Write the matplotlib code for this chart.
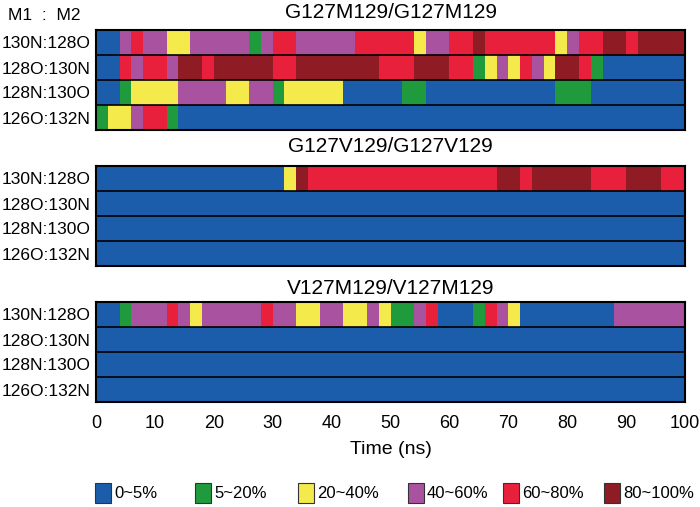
import matplotlib
matplotlib.use("Agg")
import matplotlib.pyplot as plt
from matplotlib.patches import Rectangle

plt.rcParams['font.family'] = ['Liberation Sans', 'DejaVu Sans']

# occupancy classes and their colours
levels = ["0~5%", "5~20%", "20~40%", "40~60%", "60~80%", "80~100%"]
colors = ["#1b5dab", "#1f9a3c", "#f4ea4c", "#a9529f", "#e8203b", "#8f1c24"]

row_labels = ["130N:128O", "128O:130N", "128N:130O", "126O:132N"]
titles = ["G127M129/G127M129", "G127V129/G127V129", "V127M129/V127M129"]

# segment edges (ns) and level index per row, top row first
gm_edges = [
    [0, 4, 6, 8, 12, 16, 26, 28, 30, 34, 44, 54, 56, 60, 64, 66, 78, 80, 82, 86, 90, 92, 100],
    [0, 4, 6, 8, 12, 14, 18, 20, 30, 34, 48, 54, 60, 64, 66, 68, 70, 72, 74, 76, 78, 82, 84, 86, 100],
    [0, 4, 6, 14, 22, 26, 30, 32, 42, 52, 56, 78, 84, 100],
    [0, 2, 6, 8, 12, 14, 100],
]
gm_levels = [
    [0, 3, 4, 3, 2, 3, 1, 3, 4, 3, 4, 2, 3, 4, 5, 4, 2, 3, 4, 5, 4, 5],
    [0, 4, 3, 4, 3, 5, 4, 5, 4, 5, 4, 5, 4, 1, 2, 3, 2, 4, 3, 2, 5, 4, 1, 0],
    [0, 1, 2, 3, 2, 3, 1, 2, 0, 1, 0, 1, 0],
    [1, 2, 3, 4, 1, 0],
]

gv_edges = [
    [0, 32, 34, 36, 68, 72, 74, 84, 90, 96, 100],
    [0, 100],
    [0, 100],
    [0, 100],
]
gv_levels = [
    [0, 2, 5, 4, 5, 4, 5, 4, 5, 4],
    [0],
    [0],
    [0],
]

vm_edges = [
    [0, 4, 6, 12, 14, 16, 18, 28, 30, 34, 38, 42, 46, 48, 50, 54, 56, 58, 64, 66, 68, 70, 72, 88, 100],
    [0, 100],
    [0, 100],
    [0, 100],
]
vm_levels = [
    [0, 1, 3, 4, 3, 2, 3, 4, 3, 2, 3, 2, 3, 2, 1, 3, 4, 0, 1, 4, 3, 2, 0, 3],
    [0],
    [0],
    [0],
]

panels = [(gm_edges, gm_levels), (gv_edges, gv_levels), (vm_edges, vm_levels)]

fig = plt.figure(figsize=(7, 5.07), dpi=100)

# panel boxes in pixels: (top, bottom), title pad in points
W, H = 700, 507
left_px, right_px = 96, 685
boxes = [(30, 130), (166, 266), (302, 402)]
title_pads = [8.5, 10, 6]

axes = []
for (top, bot), (edges, lv), title, tp in zip(boxes, panels, titles, title_pads):
    ax = fig.add_axes([left_px / W, 1 - bot / H, (right_px - left_px) / W, (bot - top) / H])
    for i, (e, l) in enumerate(zip(edges, lv)):
        y = 3 - i
        segs = [(e[k], e[k + 1] - e[k]) for k in range(len(l))]
        ax.broken_barh(segs, (y, 1), facecolors=[colors[c] for c in l], edgecolor="none")
    for y in (1, 2, 3):
        ax.axhline(y, color="black", lw=1.2)
    ax.set_xlim(0, 100)
    ax.set_ylim(0, 4)
    ax.set_yticks([3.5, 2.5, 1.5, 0.5])
    ax.set_yticklabels(row_labels, fontsize=12.5)
    ax.tick_params(length=0, pad=4)
    ax.set_xticks(range(0, 101, 10))
    ax.tick_params(axis="x", labelbottom=False)
    for s in ax.spines.values():
        s.set_linewidth(1.5)
    ax.set_title(title, fontsize=15, pad=tp)
    axes.append(ax)

axes[-1].tick_params(axis="x", labelbottom=True, labelsize=13, pad=9)
axes[-1].set_xlabel("Time (ns)", fontsize=14, labelpad=7)

fig.text(8 / W, 1 - 16 / H, "M1  :  M2", fontsize=12.5, va="center", ha="left")

# legend drawn by hand so the items sit where they do in the original
legend_x = [95, 195, 298, 408, 503, 604]
legend_y = 493
for x, c, l in zip(legend_x, colors, levels):
    fig.add_artist(Rectangle((x / W, 1 - (legend_y + 10) / H), 16 / W, 20 / H,
                             transform=fig.transFigure, facecolor=c,
                             edgecolor="#333333", lw=0.8))
    fig.text((x + 19) / W, 1 - legend_y / H, l, fontsize=12, va="center", ha="left")

fig.savefig("out.png", dpi=100)
